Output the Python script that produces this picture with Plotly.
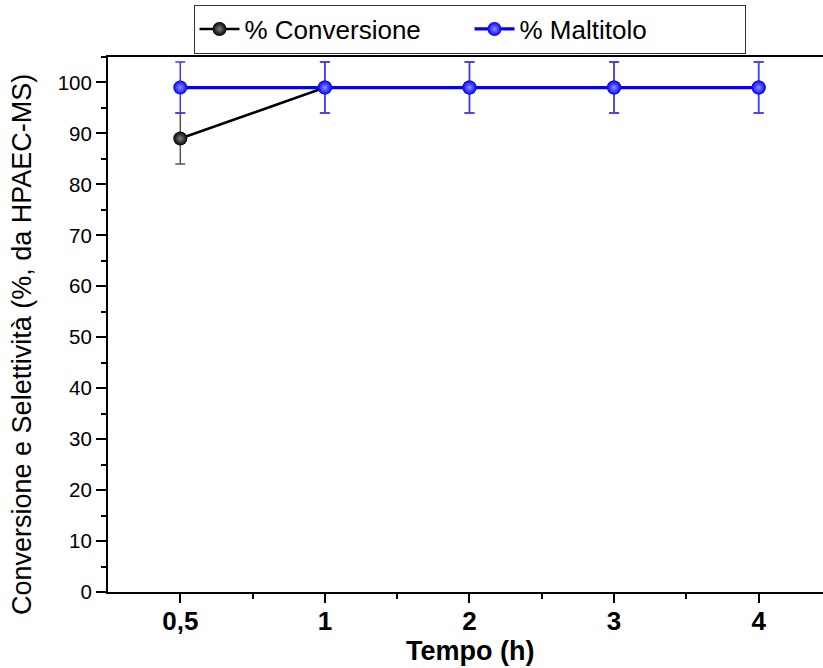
import plotly.graph_objects as go

categories = ["0,5", "1", "2", "3", "4"]
conversione = [89, 99, 99, 99, 99]
conversione_err = [5, 5, 5, 5, 5]
maltitolo = [99, 99, 99, 99, 99]
maltitolo_err = [5, 5, 5, 5, 5]
y_ticks = [0, 10, 20, 30, 40, 50, 60, 70, 80, 90, 100]

xpos = list(range(len(categories)))
FONT = "Liberation Sans, Arial, sans-serif"

fig = go.Figure()
fig.add_trace(go.Scatter(
    x=xpos, y=conversione, name="% Conversione", mode="lines+markers",
    line=dict(color="black", width=2.5),
    marker=dict(size=14, color="#000000",
                gradient=dict(type="radial", color="#808080"),
                line=dict(width=0)),
    error_y=dict(type="data", array=conversione_err, visible=True,
                 color="#555555", thickness=1.5, width=5),
))
fig.add_trace(go.Scatter(
    x=xpos, y=maltitolo, name="% Maltitolo", mode="lines+markers",
    line=dict(color="#0000ff", width=3.2),
    marker=dict(size=14, color="#0000ff",
                gradient=dict(type="radial", color="#9090ff"),
                line=dict(width=0)),
    error_y=dict(type="data", array=maltitolo_err, visible=True,
                 color="#3a3aff", thickness=1.5, width=5),
))

fig.update_layout(
    width=823, height=668,
    margin=dict(l=108, r=0, t=57, b=76),
    paper_bgcolor="white", plot_bgcolor="white",
    font=dict(family=FONT, color="black"),
    showlegend=True,
    legend=dict(
        orientation="h", x=0.5056, xanchor="center", y=1.098, yanchor="top",
        font=dict(size=26, family=FONT, color="black"),
        bgcolor="white", bordercolor="#333333", borderwidth=1,
        itemwidth=40, tracegroupgap=0,
        entrywidth=220, entrywidthmode="pixels",
    ),
    xaxis=dict(
        range=[-0.5, 4.445], showgrid=False, zeroline=False,
        showline=True, linecolor="black", linewidth=2, mirror=True,
        tickmode="array", tickvals=xpos, ticktext=categories,
        ticks="outside", ticklen=9, tickwidth=1.5, tickcolor="black",
        ticklabelstandoff=-4,
        tickfont=dict(size=26, family=FONT, weight="bold"),
        minor=dict(tickvals=[0.5, 1.5, 2.5, 3.5], ticks="outside",
                   ticklen=5, tickwidth=1.5, tickcolor="black"),
    ),
    yaxis=dict(
        range=[0, 105], showgrid=False, zeroline=False,
        showline=True, linecolor="black", linewidth=2, mirror=False,
        tickmode="array", tickvals=y_ticks,
        ticks="outside", ticklen=10, tickwidth=1.5, tickcolor="black",
        tickfont=dict(size=20.5, family=FONT),
        minor=dict(dtick=5, tick0=0, ticks="outside",
                   ticklen=5, tickwidth=1.5, tickcolor="black"),
    ),
    annotations=[
        dict(text="Conversione e Selettività (%, da HPAEC-MS)",
             xref="paper", yref="paper", x=(22 - 108) / 715, y=(592 - 345) / 535,
             xanchor="center", yanchor="middle", textangle=-90, showarrow=False,
             font=dict(size=27, family=FONT, color="black")),
        dict(text="<b>Tempo (h)</b>",
             xref="paper", yref="paper", x=(470 - 108) / 715, y=(592 - 651) / 535,
             xanchor="center", yanchor="middle", showarrow=False,
             font=dict(size=27, family=FONT, color="black")),
    ],
)

fig.write_html("out.html")
